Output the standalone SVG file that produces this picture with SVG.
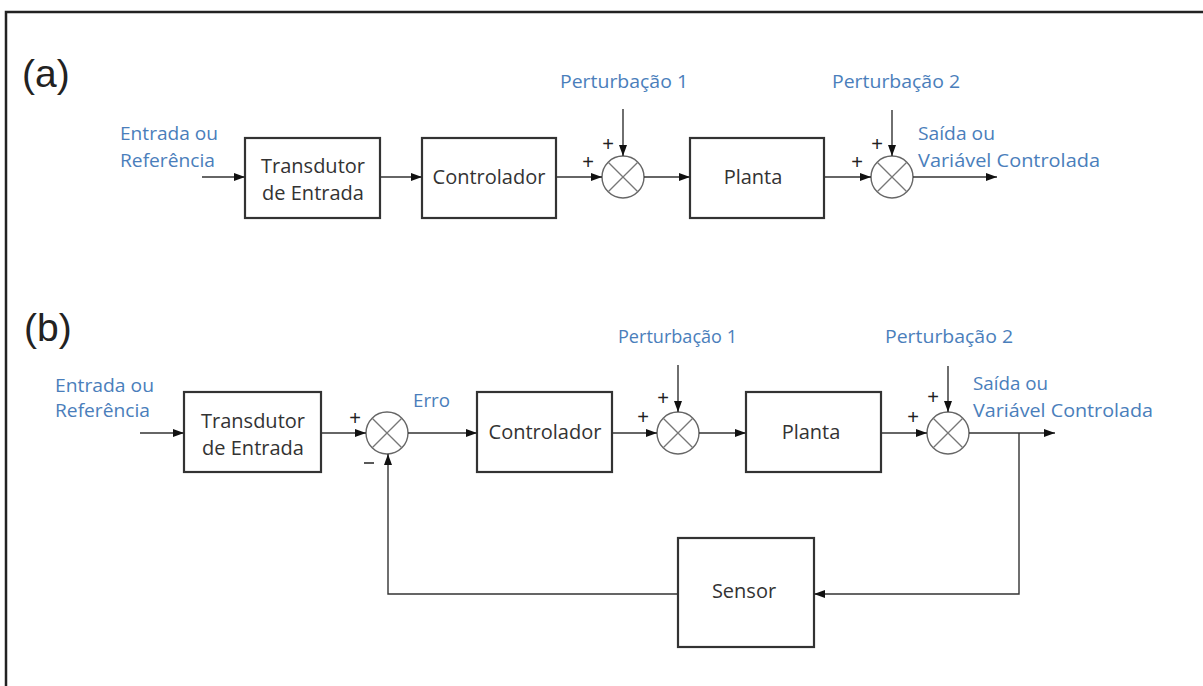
<svg xmlns="http://www.w3.org/2000/svg" width="1203" height="686" viewBox="0 0 1203 686">
  <defs>
    <marker id="arrow" viewBox="0 0 11 8" refX="11" refY="4" markerWidth="11" markerHeight="8" markerUnits="userSpaceOnUse" orient="auto">
      <path d="M0,0 L11,4 L0,8 z" fill="#111"/>
    </marker>
    <style>
      .frame { fill: none; stroke: #222; stroke-width: 2.5; }
      .box { fill: #fff; stroke: #333; stroke-width: 2.2; }
      .sum { fill: #fff; stroke: #666; stroke-width: 1.4; }
      .cross { stroke: #777; stroke-width: 1.3; }
      .wire { fill: none; stroke: #333; stroke-width: 1.4; }
      .arr { fill: none; stroke: #333; stroke-width: 1.4; marker-end: url(#arrow); }
      .lbl { font-family: "Open Sans", "Noto Sans", sans-serif; font-size: 20px; fill: #333; text-anchor: middle; }
      .blue { font-family: "Open Sans", "Noto Sans", sans-serif; font-size: 18px; fill: #4a7ebb; }
      .sign { font-family: "Liberation Sans", Arial, sans-serif; font-size: 20px; fill: #222; text-anchor: middle; }
      .tag { font-family: "Liberation Sans", Arial, sans-serif; font-size: 39px; fill: #222; }
    </style>
  </defs>

  <rect x="0" y="0" width="1203" height="686" fill="#fff"/>
  <!-- outer frame: only top and left edges fall inside the canvas -->
  <rect class="frame" x="6" y="12" width="1220" height="700"/>

  <!-- ===== (a) open loop ===== -->
  <text class="tag" x="22" y="87">(a)</text>

  <g id="a-input-label">
    <text class="blue" x="120" y="140" textLength="98" lengthAdjust="spacingAndGlyphs">Entrada ou</text>
    <text class="blue" x="120" y="167" textLength="95" lengthAdjust="spacingAndGlyphs">Referência</text>
  </g>
  <g id="a-transdutor">
    <rect class="box" x="245" y="138" width="135" height="80"/>
    <text class="lbl" x="313" y="173">Transdutor</text>
    <text class="lbl" x="313" y="200">de Entrada</text>
  </g>
  <g id="a-controlador">
    <rect class="box" x="422" y="138" width="134" height="80"/>
    <text class="lbl" x="489" y="184">Controlador</text>
  </g>
  <g id="a-sum1">
    <circle class="sum" cx="623" cy="177" r="21"/>
    <line class="cross" x1="608.2" y1="162.2" x2="637.8" y2="191.8"/>
    <line class="cross" x1="637.8" y1="162.2" x2="608.2" y2="191.8"/>
    <text class="sign" x="588" y="169">+</text>
    <text class="sign" x="608" y="151">+</text>
  </g>
  <g id="a-dist1">
    <text class="blue" x="560" y="88" textLength="128" lengthAdjust="spacingAndGlyphs">Perturbação 1</text>
  </g>
  <g id="a-planta">
    <rect class="box" x="690" y="138" width="134" height="80"/>
    <text class="lbl" x="753" y="184">Planta</text>
  </g>
  <g id="a-sum2">
    <circle class="sum" cx="892" cy="177" r="21"/>
    <line class="cross" x1="877.2" y1="162.2" x2="906.8" y2="191.8"/>
    <line class="cross" x1="906.8" y1="162.2" x2="877.2" y2="191.8"/>
    <text class="sign" x="857" y="169">+</text>
    <text class="sign" x="877" y="151">+</text>
  </g>
  <g id="a-dist2">
    <text class="blue" x="832" y="88" textLength="128" lengthAdjust="spacingAndGlyphs">Perturbação 2</text>
  </g>
  <g id="a-output-label">
    <text class="blue" x="918" y="140" textLength="77" lengthAdjust="spacingAndGlyphs">Saída ou</text>
    <text class="blue" x="918" y="167" textLength="182" lengthAdjust="spacingAndGlyphs">Variável Controlada</text>
  </g>

  <g id="a-connectors">
    <line class="arr" x1="202" y1="177" x2="245" y2="177"/>
    <line class="arr" x1="380" y1="177" x2="422" y2="177"/>
    <line class="arr" x1="556" y1="177" x2="602" y2="177"/>
    <line class="arr" x1="623" y1="109" x2="623" y2="156"/>
    <line class="arr" x1="644" y1="177" x2="690" y2="177"/>
    <line class="arr" x1="824" y1="177" x2="871" y2="177"/>
    <line class="arr" x1="892" y1="110" x2="892" y2="156"/>
    <line class="arr" x1="913" y1="177" x2="997" y2="177"/>
  </g>

  <!-- ===== (b) closed loop ===== -->
  <text class="tag" x="24" y="341">(b)</text>

  <g id="b-input-label">
    <text class="blue" x="55" y="392" textLength="99" lengthAdjust="spacingAndGlyphs">Entrada ou</text>
    <text class="blue" x="55" y="417" textLength="95" lengthAdjust="spacingAndGlyphs">Referência</text>
  </g>
  <g id="b-transdutor">
    <rect class="box" x="184" y="392" width="137" height="80"/>
    <text class="lbl" x="253" y="428">Transdutor</text>
    <text class="lbl" x="253" y="455">de Entrada</text>
  </g>
  <g id="b-sum0">
    <circle class="sum" cx="387" cy="433" r="21"/>
    <line class="cross" x1="372.2" y1="418.2" x2="401.8" y2="447.8"/>
    <line class="cross" x1="401.8" y1="418.2" x2="372.2" y2="447.8"/>
    <text class="sign" x="355" y="425">+</text>
    <line x1="364" y1="463" x2="374" y2="463" stroke="#222" stroke-width="1.5"/>
  </g>
  <g id="b-erro">
    <text class="blue" x="413" y="407" textLength="37" lengthAdjust="spacingAndGlyphs">Erro</text>
  </g>
  <g id="b-controlador">
    <rect class="box" x="477" y="392" width="135" height="80"/>
    <text class="lbl" x="545" y="439">Controlador</text>
  </g>
  <g id="b-sum1">
    <circle class="sum" cx="678" cy="433" r="21"/>
    <line class="cross" x1="663.2" y1="418.2" x2="692.8" y2="447.8"/>
    <line class="cross" x1="692.8" y1="418.2" x2="663.2" y2="447.8"/>
    <text class="sign" x="643" y="424">+</text>
    <text class="sign" x="663" y="405">+</text>
  </g>
  <g id="b-dist1">
    <text class="blue" x="618" y="343" textLength="119" lengthAdjust="spacingAndGlyphs">Perturbação 1</text>
  </g>
  <g id="b-planta">
    <rect class="box" x="746" y="392" width="135" height="80"/>
    <text class="lbl" x="811" y="439">Planta</text>
  </g>
  <g id="b-sum2">
    <circle class="sum" cx="948" cy="433" r="21"/>
    <line class="cross" x1="933.2" y1="418.2" x2="962.8" y2="447.8"/>
    <line class="cross" x1="962.8" y1="418.2" x2="933.2" y2="447.8"/>
    <text class="sign" x="913" y="424">+</text>
    <text class="sign" x="933" y="404">+</text>
  </g>
  <g id="b-dist2">
    <text class="blue" x="885" y="343" textLength="128" lengthAdjust="spacingAndGlyphs">Perturbação 2</text>
  </g>
  <g id="b-output-label">
    <text class="blue" x="973" y="390" textLength="75" lengthAdjust="spacingAndGlyphs">Saída ou</text>
    <text class="blue" x="973" y="417" textLength="180" lengthAdjust="spacingAndGlyphs">Variável Controlada</text>
  </g>
  <g id="b-sensor">
    <rect class="box" x="678" y="538" width="136" height="109"/>
    <text class="lbl" x="744" y="598">Sensor</text>
  </g>

  <g id="b-connectors">
    <line class="arr" x1="140" y1="433" x2="184" y2="433"/>
    <line class="arr" x1="321" y1="433" x2="366" y2="433"/>
    <line class="arr" x1="408" y1="433" x2="477" y2="433"/>
    <line class="arr" x1="612" y1="433" x2="657" y2="433"/>
    <line class="arr" x1="678" y1="365" x2="678" y2="412"/>
    <line class="arr" x1="699" y1="433" x2="746" y2="433"/>
    <line class="arr" x1="881" y1="433" x2="927" y2="433"/>
    <line class="arr" x1="948" y1="366" x2="948" y2="412"/>
    <line class="arr" x1="969" y1="433" x2="1055" y2="433"/>
    <!-- feedback path: output branch -> sensor -> comparator -->
    <polyline class="arr" points="1019,433 1019,594 814,594"/>
    <polyline class="arr" points="678,594 388,594 388,454"/>
  </g>
</svg>
